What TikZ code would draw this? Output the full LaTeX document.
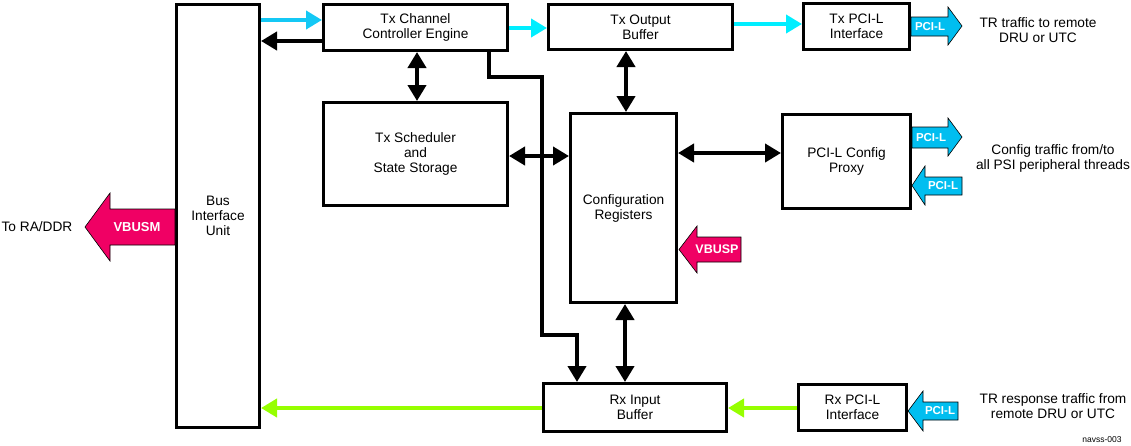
\documentclass[tikz,border=0pt]{standalone}
\usepackage{fontspec}
\setmainfont{Liberation Sans}
\usetikzlibrary{arrows.meta}
\definecolor{cyanA}{RGB}{20,200,245}
\definecolor{cyanB}{RGB}{0,238,255}
\definecolor{pcifill}{RGB}{0,190,240}
\definecolor{limeG}{RGB}{150,255,0}
\definecolor{vbus}{RGB}{240,0,100}
\begin{document}
\begin{tikzpicture}[x=1pt,y=-1pt,
  box/.style={draw, line width=3pt, fill=white, align=center, inner sep=0pt, font=\fontsize{13.7}{15}\selectfont},
  txt/.style={align=center, inner sep=0pt, font=\fontsize{13.7}{15}\selectfont},
  tipT/.tip={Triangle[length=16pt,width=18pt]},
  blk/.style={line width=4pt, line join=miter, -tipT},
  dbl/.style={line width=4pt, tipT-tipT},
  cya/.style={line width=4pt, draw=cyanA, -tipT},
  cyb/.style={line width=4pt, draw=cyanB, -tipT},
  grn/.style={line width=4pt, draw=limeG, -tipT},
  pciarrow/.style={draw=black, line width=0.6pt, line join=miter, fill=pcifill},
  vbusarrow/.style={draw=black, line width=0.6pt, line join=miter, fill=vbus},
  pcil/.style={text=white, inner sep=0pt, font=\bfseries\fontsize{11.5}{11.5}\selectfont},
  vlab/.style={text=white, inner sep=0pt, font=\bfseries\fontsize{13}{13}\selectfont}
]
\useasboundingbox (0,0) rectangle (1131,445);

% boxes
\node[box, minimum width=83pt, minimum height=423pt] (biu) at (218,216) {Bus\\Interface\\Unit};
\node[box, minimum width=184pt, minimum height=46pt] (txc) at (415.5,27.5) {Tx Channel\\Controller Engine};
\node[box, minimum width=184pt, minimum height=45pt] (txo) at (640.5,27) {Tx Output\\Buffer};
\node[box, minimum width=106pt, minimum height=46pt] (txp) at (856.5,26.5) {Tx PCI-L\\Interface};
\node[box, minimum width=184pt, minimum height=103pt] (sch) at (415.5,154) {Tx Scheduler\\and\\State Storage};
\node[box, minimum width=106pt, minimum height=189pt] (cfg) at (623.5,208) {Configuration\\Registers};
\node[box, minimum width=128pt, minimum height=94pt] (prx) at (846.5,161.5) {PCI-L Config\\Proxy};
\node[box, minimum width=183pt, minimum height=48pt] (rxi) at (635,407.5) {Rx Input\\Buffer};
\node[box, minimum width=108pt, minimum height=46pt] (rxp) at (852.5,407.5) {Rx PCI-L\\Interface};

% connectors
\draw[cya] (biu.east |- 0,20) -- (txc.west |- 0,20);
\draw[blk] (txc.west |- 0,41) -- (biu.east |- 0,41);
\draw[cyb] (txc.east |- 0,28) -- (txo.west |- 0,28);
\draw[cyb] (txo.east |- 0,24) -- (txp.west |- 0,24);
\draw[dbl] (txc.south -| 417,0) -- (sch.north -| 417,0);
\draw[blk] (txc.south -| 489,0) |- (542,77) -- (542,335) -| (rxi.north -| 577,0);
\draw[dbl] (sch.east |- 0,156) -- (cfg.west |- 0,156);
\draw[dbl] (cfg.east |- 0,153) -- (prx.west |- 0,153);
\draw[dbl] (txo.south -| 626,0) -- (cfg.north -| 626,0);
\draw[dbl] (cfg.south -| 625,0) -- (rxi.north -| 625,0);
\draw[grn] (rxp.west |- 0,408) -- (rxi.east |- 0,408);
\draw[grn] (rxi.west |- 0,408) -- (biu.east |- 0,408);

% block arrows
\draw[vbusarrow] (175,209) -- (110,209) -- (110,193) -- (85,227) -- (110,261) -- (110,245) -- (175,245) -- cycle;
\node[vlab] (vbusm) at (137,227) {VBUSM};
\draw[vbusarrow] (741,237) -- (697,237) -- (697,226) -- (679,249.5) -- (697,273) -- (697,262) -- (741,262) -- cycle;
\node[vlab, font=\bfseries\fontsize{12.5}{12.5}\selectfont] (vbusp) at (717,249.5) {VBUSP};

\draw[pciarrow] (911,17) -- (948,17) -- (948,7) -- (962,26) -- (948,45) -- (948,36) -- (911,36) -- cycle;
\node[pcil] (pci1) at (930,26.5) {PCI-L};
\draw[pciarrow] (912,127) -- (948,127) -- (948,118) -- (962,137) -- (948,156) -- (948,148) -- (912,148) -- cycle;
\node[pcil] (pci2) at (931,137.5) {PCI-L};
\draw[pciarrow] (912,185.5) -- (925,166) -- (925,177) -- (962,177) -- (962,195) -- (925,195) -- (925,205) -- cycle;
\node[pcil] (pci3) at (943,186) {PCI-L};
\draw[pciarrow] (908,411) -- (923,391) -- (923,402) -- (958,402) -- (958,420) -- (923,420) -- (923,431) -- cycle;
\node[pcil] (pci4) at (940,411) {PCI-L};

% side texts
\node[txt] (t1) at (1038,30) {TR traffic to remote\\DRU or UTC};
\node[txt] (t2) at (1053,158) {Config traffic from/to\\all PSI peripheral threads};
\node[txt] (t3) at (1053,406) {TR response traffic from\\remote DRU or UTC};
\node[txt] (t4) at (37,227) {To RA/DDR};
\node[txt, font=\fontsize{8.5}{9}\selectfont] (t5) at (1102,440) {navss-003};
\end{tikzpicture}
\end{document}
